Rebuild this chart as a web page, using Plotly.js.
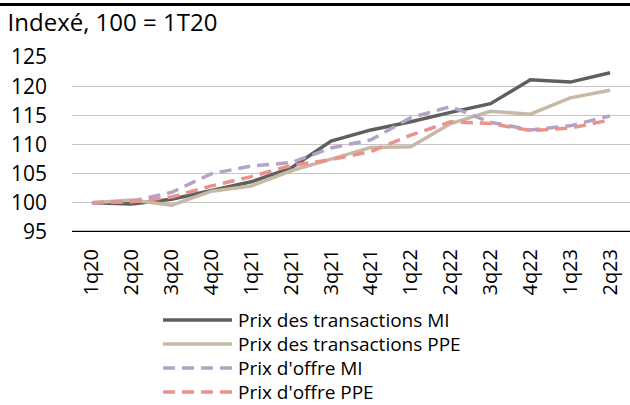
<!DOCTYPE html>
<html><head><meta charset="utf-8">
<script src="https://cdn.plot.ly/plotly-3.0.1.min.js"></script>
<style>body{margin:0;padding:0;background:#fff}#c{width:630px;height:405px}</style>
</head><body><div id="c"></div>
<script>
const categories = ["1q20","2q20","3q20","4q20","1q21","2q21","3q21","4q21","1q22","2q22","3q22","4q22","1q23","2q23"];
const transMI  = [100, 99.8, 100.6, 102.1, 103.6, 106.0, 110.6, 112.5, 113.9, 115.5, 117.0, 121.1, 120.7, 122.3];
const transPPE = [100, 100.5, 99.6, 102.0, 102.9, 105.5, 107.5, 109.5, 109.6, 113.6, 115.7, 115.2, 118.0, 119.3];
const offreMI  = [100, 100.3, 101.8, 105.0, 106.3, 106.9, 109.4, 110.8, 114.6, 116.5, 113.8, 112.5, 113.2, 114.9];
const offrePPE = [100, 100.2, 101.0, 102.9, 104.5, 106.4, 107.4, 108.8, 111.6, 113.9, 113.6, 112.4, 112.8, 114.2];
const names = ["Prix des transactions MI","Prix des transactions PPE","Prix d'offre MI","Prix d'offre PPE"];
const colors = ['#5f5f5f', '#c8b8a6', '#b4a2c8', '#e8938c'];
const dashes = ['solid', 'solid', '12px,7px', '12px,7px'];
const series = [transMI, transPPE, offreMI, offrePPE];
const F = "Open Sans, Noto Sans, sans-serif";

// plot area geometry (pixels)
const L = 72, T = 57, W = 558, H = 175;
const px = x => (x - L) / W, py = y => (T + H - y) / H;

const data = series.map((s, i) => ({x: categories, y: s, name: names[i], type: 'scatter', mode: 'lines',
  line: {color: colors[i], width: 3.5, dash: dashes[i]}, showlegend: false}));

const shapes = [
  {type: 'line', xref: 'paper', yref: 'paper', x0: px(0), x1: 1, y0: py(4.5), y1: py(4.5), line: {color: '#000', width: 3}},
  {type: 'line', xref: 'paper', yref: 'y', x0: 0, x1: 1, y0: 95, y1: 95, line: {color: '#000', width: 2.5}}
];
const annotations = [];
const legendY = [320, 344, 368, 392];
names.forEach((n, i) => {
  shapes.push({type: 'line', xref: 'paper', yref: 'paper', x0: px(163), x1: px(232), y0: py(legendY[i]), y1: py(legendY[i]),
    line: {color: colors[i], width: 3.5, dash: dashes[i]}});
  annotations.push({xref: 'paper', yref: 'paper', x: px(237), y: py(legendY[i]), xanchor: 'left', yanchor: 'middle',
    text: n, showarrow: false, borderpad: 0, height: 22, valign: 'middle', font: {family: F, size: 19, color: '#000'}});
});

const layout = {
  width: 630, height: 405,
  margin: {l: L, r: 630 - L - W, t: T, b: 405 - T - H},
  paper_bgcolor: '#fff', plot_bgcolor: '#fff',
  font: {family: F, size: 17, color: '#000'},
  title: {text: 'Indexé, 100 = 1T20', xref: 'container', yref: 'container', x: 0.012, xanchor: 'left', y: 1 - 23/405, yanchor: 'middle', font: {family: F, size: 24, color: '#000'}},
  xaxis: {type: 'category', range: [-0.5, 13.5], tickangle: -90, showgrid: false, showline: false, ticks: '', tickfont: {size: 20}, automargin: false, zeroline: false, ticklabelstandoff: 12},
  yaxis: {range: [95, 125], dtick: 5, tick0: 95, showgrid: true, gridcolor: '#c6c6c6', gridwidth: 1, zeroline: false, showline: false, ticks: '', tickfont: {size: 21}, ticklabelstandoff: 24, automargin: false},
  shapes: shapes,
  annotations: annotations,
  showlegend: false
};
Plotly.newPlot('c', data, layout, {staticPlot: true, displayModeBar: false});
</script></body></html>
